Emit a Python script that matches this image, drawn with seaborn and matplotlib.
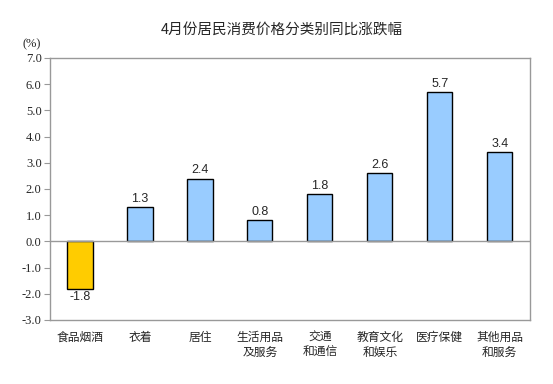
import numpy as np
import pandas as pd
import seaborn as sns
import matplotlib.pyplot as plt

categories = ['食品烟酒', '衣着', '居住', '生活用品\n及服务', '交通\n和通信', '教育文化\n和娱乐', '医疗保健', '其他用品\n和服务']
values = [-1.8, 1.3, 2.4, 0.8, 1.8, 2.6, 5.7, 3.4]
yticks = [-3.0, -2.0, -1.0, 0.0, 1.0, 2.0, 3.0, 4.0, 5.0, 6.0, 7.0]
title = '4月份居民消费价格分类别同比涨跌幅'

sns.set_style('white')
plt.rcParams['font.family'] = ['Noto Sans CJK SC', 'DejaVu Sans']

df = pd.DataFrame({'cat': categories, 'val': values})
df['sign'] = np.where(df['val'] < 0, 'neg', 'pos')
palette = {'neg': '#FFCC00', 'pos': '#99CCFF'}

fig = plt.figure(figsize=(5.53, 3.84), dpi=100)
ax = fig.add_axes([0.0904, 0.1667, 0.8676, 0.6823])
sns.barplot(data=df, x='cat', y='val', hue='sign', palette=palette, dodge=False, saturation=1,
            width=0.42, edgecolor='black', linewidth=1, legend=False, ax=ax)

ax.set_ylim(-3, 7)
ax.set_xlim(-0.5, len(categories) - 0.5)
ax.set_yticks(yticks)
ax.set_yticklabels(['%.1f' % t for t in yticks], fontdict={'family': ['Liberation Serif', 'DejaVu Serif'], 'size': 9})
ax.tick_params(axis='y', length=4, width=0.8, color='#999999', direction='out', left=True, pad=2)
ax.tick_params(axis='x', length=0, pad=8)
ax.set_xticks(range(len(categories)))
ax.set_xticklabels(categories, fontsize=8.5, linespacing=1.2, va='top')
ax.axhline(0, color='#999999', lw=1, zorder=3)
for s in ax.spines.values():
    s.set_color('#999999')
    s.set_linewidth(1)
ax.set_xlabel('')
ax.set_ylabel('')

for i, v in enumerate(values):
    if v >= 0:
        ax.text(i, v + 0.08, '%.1f' % v, ha='center', va='bottom', fontsize=9, family='Liberation Sans')
    else:
        ax.text(i, v - 0.08, '%.1f' % v, ha='center', va='top', fontsize=9, family='Liberation Sans')

fig.text(0.04, 0.885, '(%)', fontsize=9, family=['Liberation Serif', 'DejaVu Serif'], ha='left', va='center')
fig.text(0.51, 0.922, title, fontsize=10.5, ha='center', va='center')

plt.savefig('out.png', dpi=100)
